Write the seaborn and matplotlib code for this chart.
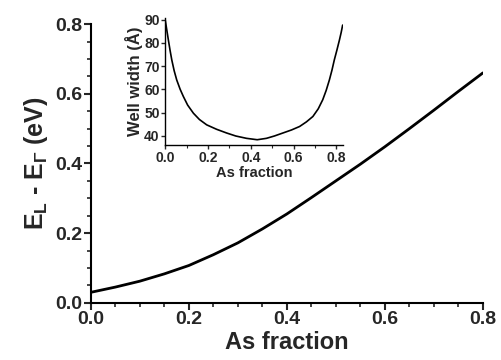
import matplotlib
matplotlib.use("Agg")
import matplotlib.pyplot as plt
import seaborn as sns
import pandas as pd
from matplotlib.ticker import MultipleLocator

# Main curve: E_L - E_Gamma vs As fraction
as_frac = [0.0, 0.05, 0.1, 0.15, 0.2, 0.25, 0.3, 0.35, 0.4, 0.45, 0.5, 0.55, 0.6, 0.65, 0.7, 0.75, 0.8]
energy = [0.030, 0.045, 0.062, 0.083, 0.107, 0.138, 0.172, 0.212, 0.255, 0.302, 0.350, 0.398, 0.448, 0.500, 0.553, 0.607, 0.660]

# Inset curve: well width vs As fraction
inset_frac = [0.0, 0.008, 0.015, 0.023, 0.031, 0.042, 0.054, 0.07, 0.085, 0.105, 0.132, 0.16, 0.194, 0.24,
              0.287, 0.33, 0.38, 0.43, 0.473, 0.51, 0.55, 0.59, 0.628, 0.66, 0.69, 0.715, 0.736,
              0.752, 0.767, 0.779, 0.79, 0.802, 0.814, 0.822, 0.829]
well_width = [90.0, 85.3, 81.2, 76.7, 72.6, 68.0, 64.0, 60.0, 56.9, 53.2, 49.7, 47.0, 44.7, 42.8,
              41.2, 39.9, 38.9, 38.3, 38.9, 39.9, 41.2, 42.5, 44.0, 46.0, 48.3, 51.6, 55.5,
              59.5, 64.0, 68.2, 72.6, 76.8, 81.2, 84.4, 87.6]

sns.set_style("ticks")
plt.rcParams['font.family'] = ['Liberation Sans', 'DejaVu Sans']
plt.rcParams['mathtext.fontset'] = 'custom'
plt.rcParams['mathtext.rm'] = 'Liberation Sans:bold'
plt.rcParams['mathtext.it'] = 'Liberation Sans:bold'
plt.rcParams['mathtext.bf'] = 'Liberation Sans:bold'

fig = plt.figure(figsize=(5.02, 3.6), dpi=100)
ax = fig.add_axes([0.181, 0.159, 0.781, 0.774])
main_df = pd.DataFrame({"x": as_frac, "y": energy})
sns.lineplot(data=main_df, x="x", y="y", ax=ax, color="black", linewidth=2.0)
ax.set_xlim(0, 0.8)
ax.set_ylim(0, 0.8)
ax.xaxis.set_major_locator(MultipleLocator(0.2))
ax.xaxis.set_minor_locator(MultipleLocator(0.05))
ax.yaxis.set_major_locator(MultipleLocator(0.2))
ax.yaxis.set_minor_locator(MultipleLocator(0.05))
ax.tick_params(which='major', direction='out', length=5, width=1.5, labelsize=14, pad=1)
ax.tick_params(which='minor', direction='out', length=3, width=1.2)
for lab in ax.get_xticklabels() + ax.get_yticklabels():
    lab.set_fontweight('bold')
ax.set_xlabel("As fraction", fontsize=17, fontweight='bold', labelpad=2)
ax.set_ylabel(r"E$_\mathrm{L}$ - E$_\Gamma$ (eV)", fontsize=18, fontweight='bold', labelpad=4)
sns.despine(ax=ax)
for s in ['left', 'bottom']:
    ax.spines[s].set_linewidth(1.5)
    ax.spines[s].set_color('black')

ins = fig.add_axes([0.329, 0.597, 0.354, 0.352])
ins_df = pd.DataFrame({"x": inset_frac, "y": well_width})
sns.lineplot(data=ins_df, x="x", y="y", ax=ins, color="black", linewidth=1.2)
ins.set_xlim(0, 0.83)
ins.set_ylim(36, 90.5)
ins.xaxis.set_major_locator(MultipleLocator(0.2))
ins.xaxis.set_minor_locator(MultipleLocator(0.1))
ins.yaxis.set_major_locator(MultipleLocator(10))
ins.tick_params(which='major', direction='out', length=3, width=1.0, labelsize=10, pad=1)
ins.tick_params(which='minor', direction='out', length=2, width=0.8)
for lab in ins.get_xticklabels() + ins.get_yticklabels():
    lab.set_fontweight('bold')
ins.set_xlabel("As fraction", fontsize=10.5, fontweight='bold', labelpad=1)
ins.set_ylabel("Well width (Å)", fontsize=12, fontweight='bold', labelpad=1)
ins.patch.set_alpha(0)
sns.despine(ax=ins)
for s in ['left', 'bottom']:
    ins.spines[s].set_linewidth(1.0)
    ins.spines[s].set_color('black')

fig.savefig("out.png", dpi=100)
